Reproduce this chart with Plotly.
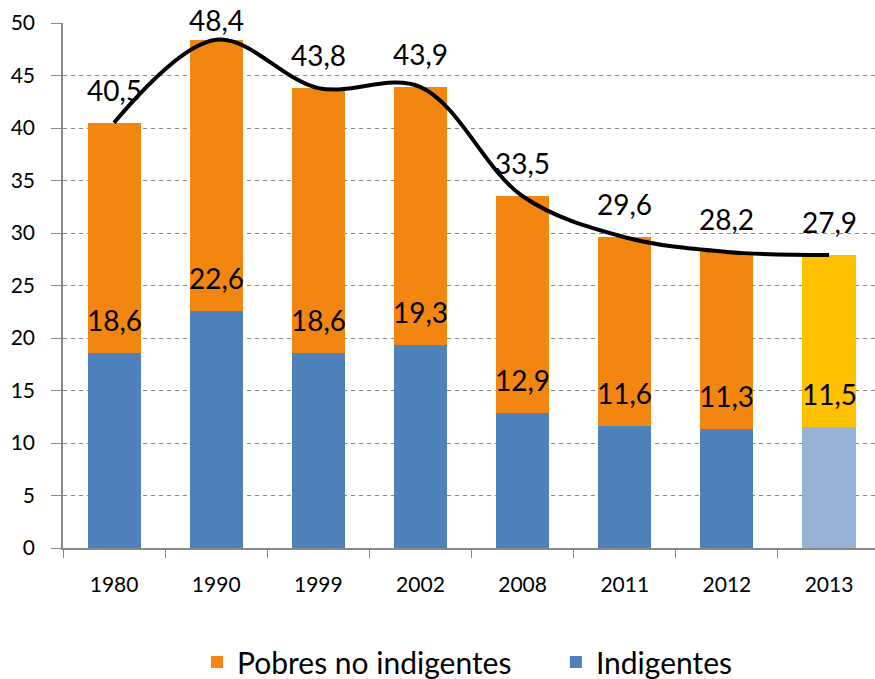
import plotly.graph_objects as go

years = ["1980", "1990", "1999", "2002", "2008", "2011", "2012", "2013"]
totals = [40.5, 48.4, 43.8, 43.9, 33.5, 29.6, 28.2, 27.9]
indigentes = [18.6, 22.6, 18.6, 19.3, 12.9, 11.6, 11.3, 11.5]
pobres_no_ind = [round(t - i, 1) for t, i in zip(totals, indigentes)]

blue_colors = ["#4F81BD"] * 7 + ["#95B3D7"]
orange_colors = ["#F28611"] * 7 + ["#FFC000"]

def fmt(v):
    return f"{v:.1f}".replace(".", ",")

FONT = "Lato"

fig = go.Figure()
fig.add_trace(go.Bar(x=years, y=indigentes, name="Indigentes", legend="legend2",
                     marker=dict(color=blue_colors, line=dict(width=0))))
fig.add_trace(go.Bar(x=years, y=pobres_no_ind, name="Pobres no indigentes", legend="legend",
                     marker=dict(color=orange_colors, line=dict(width=0))))
fig.add_trace(go.Scatter(x=years, y=totals, mode="lines", showlegend=False,
                         line=dict(color="black", width=4, shape="spline", smoothing=1)))

for k, (t, i) in enumerate(zip(totals, indigentes)):
    ys = 14 if t < 47 else 1
    fig.add_annotation(x=k, y=t, xref="x", yref="y", text=fmt(t), showarrow=False,
                       yanchor="bottom", yshift=ys,
                       font=dict(size=28, color="black", family=FONT))
    fig.add_annotation(x=k, y=i, xref="x", yref="y", text=fmt(i), showarrow=False,
                       yanchor="bottom", yshift=14,
                       font=dict(size=28, color="black", family=FONT))

legend_style = dict(orientation="h", xanchor="left", yref="container", y=0.025,
                    yanchor="middle", font=dict(size=30, family=FONT),
                    itemsizing="constant", bgcolor="rgba(0,0,0,0)")

fig.update_layout(
    width=875, height=679,
    barmode="stack", bargap=0.48,
    plot_bgcolor="white", paper_bgcolor="white",
    margin=dict(l=63, r=0, t=23, b=131, autoexpand=False),
    font=dict(family=FONT, color="black"),
    legend=dict(x=0.165, **legend_style),
    legend2=dict(x=0.607, **legend_style),
    showlegend=True,
)
fig.update_xaxes(type="category", range=[-0.5, 7.45], showline=True, linecolor="#888888",
                 linewidth=1.5, ticks="outside", tickson="boundaries", ticklen=8,
                 tickcolor="#888888", ticklabelstandoff=17, automargin=False,
                 tickfont=dict(size=21, family=FONT), showgrid=False)
fig.update_yaxes(range=[0, 50], dtick=5, showline=True, linecolor="#888888", linewidth=1.5,
                 ticks="outside", ticklen=10, tickcolor="#888888", ticklabelstandoff=12,
                 gridcolor="#888888", griddash="4px,4px", gridwidth=1.3, automargin=False,
                 zeroline=False, tickfont=dict(size=21, family=FONT))

fig.write_html("out.html", config={"displayModeBar": False},
               post_script="document.body.style.margin='0';document.body.style.overflow='hidden';")
